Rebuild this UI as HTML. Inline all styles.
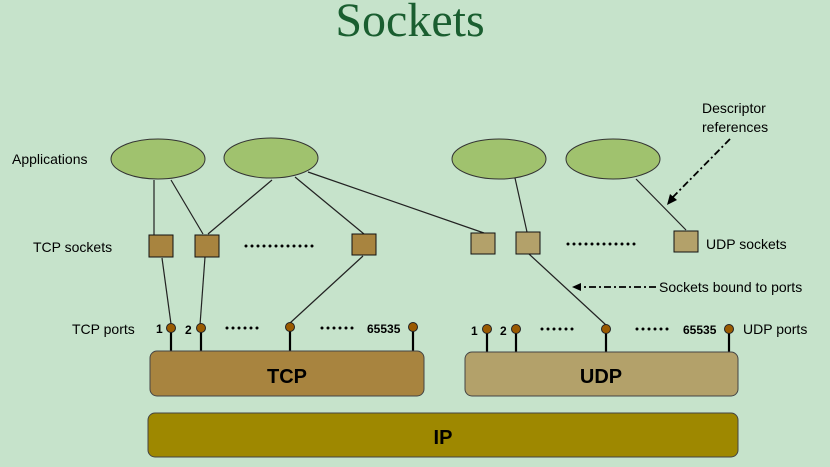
<!DOCTYPE html>
<html><head><meta charset="utf-8"><style>
html,body{margin:0;padding:0;background:#c6e3cb;}
svg{display:block;}
text{font-family:"Liberation Sans",sans-serif;fill:#000;}
</style></head><body>
<svg width="830" height="467" viewBox="0 0 830 467" xmlns="http://www.w3.org/2000/svg">
<rect width="830" height="467" fill="#c6e3cb"/>
<text x="410" y="36" text-anchor="middle" style="font-family:'Liberation Serif',serif;font-size:48px;fill:#1a5e30">Sockets</text>
<g fill="#a0c26e" stroke="#333" stroke-width="1">
<ellipse cx="158" cy="159" rx="47" ry="20"/>
<ellipse cx="271" cy="158" rx="47" ry="20"/>
<ellipse cx="499" cy="159" rx="47" ry="20"/>
<ellipse cx="613" cy="159" rx="47" ry="20"/>
</g>
<g stroke="#222" stroke-width="1.2" fill="none">
<line x1="154" y1="180" x2="154" y2="236"/>
<line x1="171" y1="180" x2="203" y2="234"/>
<line x1="272" y1="180" x2="208" y2="234"/>
<line x1="295" y1="177" x2="364" y2="234"/>
<line x1="308" y1="172" x2="484" y2="233"/>
<line x1="515" y1="178" x2="527" y2="232"/>
<line x1="636" y1="179" x2="686" y2="230"/>
<line x1="162" y1="258" x2="171" y2="324"/>
<line x1="205" y1="257" x2="200" y2="325"/>
<line x1="363" y1="256" x2="290" y2="323"/>
<line x1="529" y1="254" x2="606" y2="325"/>
</g>
<g fill="#a8843f" stroke="#111" stroke-width="1">
<rect x="149" y="235" width="24" height="22"/>
<rect x="195" y="235" width="24" height="22"/>
<rect x="352" y="234" width="24" height="21"/>
</g>
<g fill="#b3a16a" stroke="#111" stroke-width="1">
<rect x="471" y="233" width="24" height="21"/>
<rect x="516" y="232" width="24" height="22"/>
<rect x="674" y="231" width="24" height="21"/>
</g>
<g stroke="#000" stroke-width="2.2">
<line x1="171" y1="329" x2="171" y2="352"/><line x1="201" y1="329" x2="201" y2="352"/>
<line x1="290" y1="328" x2="290" y2="352"/><line x1="413" y1="328" x2="413" y2="352"/>
<line x1="487" y1="329" x2="487" y2="353"/><line x1="516" y1="329" x2="516" y2="353"/>
<line x1="606" y1="329" x2="606" y2="353"/><line x1="729" y1="329" x2="729" y2="353"/>
</g>
<g fill="#9a5a00" stroke="#222" stroke-width="1">
<circle cx="171" cy="328" r="4.5"/><circle cx="201" cy="328" r="4.5"/>
<circle cx="290" cy="327" r="4.5"/><circle cx="413" cy="327" r="4.5"/>
<circle cx="487" cy="329" r="4.5"/><circle cx="516" cy="329" r="4.5"/>
<circle cx="606" cy="329" r="4.5"/><circle cx="729" cy="329" r="4.5"/>
</g>
<rect x="150" y="351" width="274" height="45" rx="7" fill="#a8843f" stroke="#444" stroke-width="1"/>
<rect x="465" y="352" width="273" height="44" rx="7" fill="#b3a16a" stroke="#444" stroke-width="1"/>
<rect x="148" y="413" width="590" height="44" rx="7" fill="#9e8800" stroke="#444" stroke-width="1"/>
<text x="287" y="383" text-anchor="middle" font-size="20" font-weight="bold">TCP</text>
<text x="601" y="383" text-anchor="middle" font-size="20" font-weight="bold">UDP</text>
<text x="443" y="444" text-anchor="middle" font-size="20" font-weight="bold">IP</text>
<g font-size="14">
<text x="12" y="164">Applications</text>
<text x="33" y="252">TCP sockets</text>
<text x="72" y="334">TCP ports</text>
<text x="706" y="249">UDP sockets</text>
<text x="743" y="334">UDP ports</text>
<text x="702" y="113">Descriptor</text>
<text x="702" y="132">references</text>
<text x="659" y="292">Sockets bound to ports</text>
</g>
<g font-size="12" font-weight="bold">
<text x="156" y="333">1</text><text x="185" y="334">2</text>
<text x="367" y="333">65535</text>
<text x="471" y="335">1</text><text x="500" y="335">2</text>
<text x="683" y="334">65535</text>
</g>
<g stroke="#000" stroke-width="3" stroke-linecap="round" stroke-dasharray="0,6">
<line x1="246" y1="246" x2="318" y2="246"/>
<line x1="568" y1="244" x2="640" y2="244"/>
<line x1="227" y1="328" x2="259" y2="328"/>
<line x1="322" y1="328" x2="354" y2="328"/>
<line x1="542" y1="329" x2="574" y2="329"/>
<line x1="637" y1="329" x2="669" y2="329"/>
</g>
<g stroke="#000" stroke-width="1.8" fill="none" stroke-dasharray="7,3,2,3">
<line x1="730" y1="139" x2="672" y2="198"/>
<line x1="656" y1="287" x2="580" y2="287"/>
</g>
<polygon points="667,205 670,194 677,200" fill="#000"/>
<polygon points="572,287 581,283 581,291" fill="#000"/>
</svg>
</body></html>
